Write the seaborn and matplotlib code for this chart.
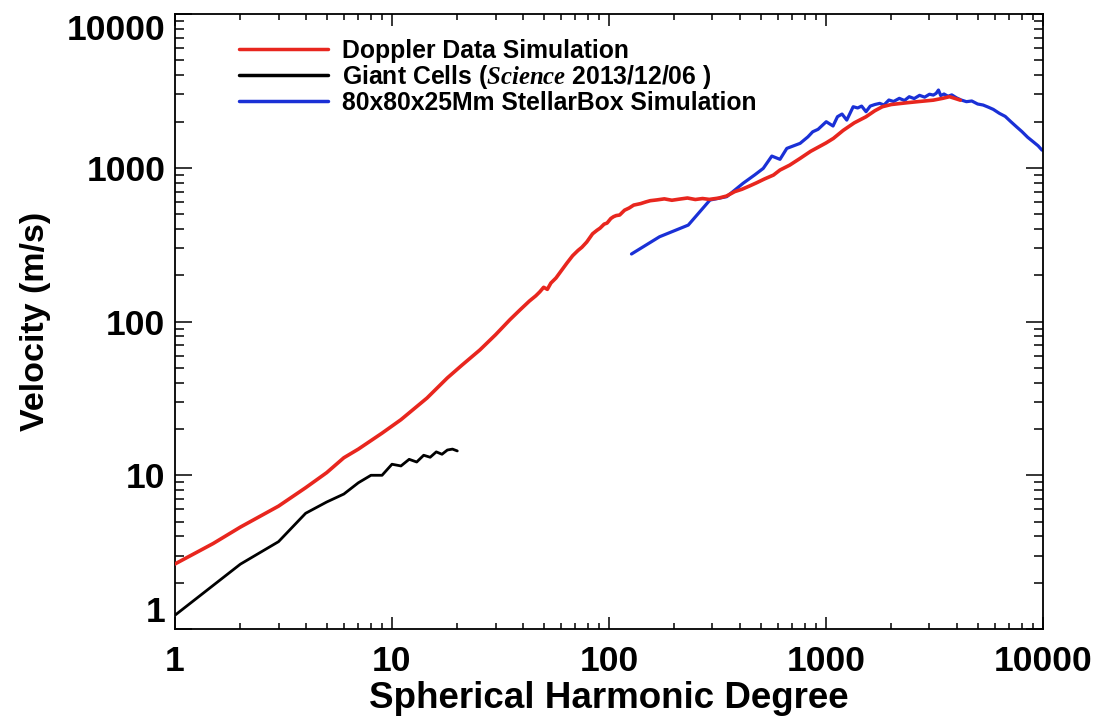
import matplotlib
matplotlib.use("Agg")
import matplotlib.pyplot as plt
import pandas as pd
import seaborn as sns

# Doppler data simulation: velocity spectrum vs spherical harmonic degree
doppler_degree = [1, 1.5, 2, 3, 4, 5, 6, 7, 9, 11, 14.5, 18, 21, 25.4, 30, 35, 38.9,
                  43, 46, 48, 50, 52, 54, 57, 60, 64, 68, 72, 75, 79, 84, 88, 91, 95,
                  98, 102, 105, 108, 112, 118, 124, 130, 140, 148, 155, 166, 180, 195,
                  212, 230, 250, 270, 290, 320, 348, 380, 410, 443, 480, 520, 573, 614,
                  680, 760, 850, 920, 1000, 1082, 1200, 1350, 1530, 1680, 1820, 2000,
                  2370, 2700, 3125, 3450, 3710, 3950, 4160]
doppler_velocity = [2.65, 3.6, 4.6, 6.3, 8.3, 10.4, 13.0, 14.8, 18.8, 23.0, 31.8, 43, 52,
                    65.3, 82, 103, 119, 136, 147, 156, 167, 162, 178, 192, 212, 240, 268,
                    290, 304, 329, 372, 392, 405, 430, 437, 468, 481, 489, 493, 530, 548,
                    572, 585, 600, 611, 618, 628, 615, 626, 636, 622, 631, 623, 635, 655,
                    700, 725, 760, 800, 845, 897, 967, 1040, 1151, 1280, 1360, 1450, 1553,
                    1750, 1960, 2148, 2350, 2496, 2580, 2650, 2700, 2754, 2830, 2900,
                    2820, 2754]

# Giant cells (Science 2013/12/06)
giant_degree = [1, 2, 3, 4, 5, 6, 7, 8, 9, 10, 11, 12, 13, 14, 15, 16, 17, 18, 19, 20]
giant_velocity = [1.23, 2.64, 3.70, 5.66, 6.70, 7.55, 8.94, 10.0, 10.0, 11.8, 11.5, 12.7,
                  12.2, 13.5, 13.1, 14.2, 13.7, 14.6, 14.8, 14.4]

# 80x80x25Mm StellarBox simulation
box_degree = [127, 171, 232, 292, 349, 415, 470, 514, 563, 614, 660, 760, 826, 869, 920,
              1003, 1078, 1130, 1186, 1247, 1335, 1400, 1460, 1530, 1600, 1680, 1770, 1850,
              1950, 2050, 2178, 2300, 2420, 2550, 2700, 2850, 3000, 3125, 3220, 3300, 3380,
              3500, 3650, 3800, 4000, 4200, 4440, 4700, 5000, 5300, 5600, 5900, 6300, 6700,
              7100, 7550, 8000, 8500, 9000, 9500, 9900]
box_velocity = [275, 356, 424, 617, 649, 793, 900, 991, 1192, 1135, 1337, 1442, 1590, 1715,
                1780, 1994, 1870, 2150, 2237, 2043, 2496, 2450, 2520, 2317, 2520, 2580, 2625,
                2560, 2760, 2700, 2830, 2740, 2900, 2820, 2960, 2880, 3010, 2972, 3050, 3206,
                2950, 3020, 2920, 2980, 2850, 2760, 2692, 2720, 2600, 2560, 2480, 2400, 2260,
                2160, 2000, 1849, 1720, 1580, 1480, 1390, 1303]

series_labels = ["Doppler Data Simulation",
                 r"Giant Cells ($\mathit{Science}$ 2013/12/06 )",
                 "80x80x25Mm StellarBox Simulation"]
series_colors = ["#e8261e", "#000000", "#1a30d6"]

tick_values = [1, 10, 100, 1000, 10000]
tick_labels = ["1", "10", "100", "1000", "10000"]

sns.set_theme(style="ticks")
plt.rcParams["font.family"] = ["Liberation Sans", "DejaVu Sans"]
plt.rcParams["font.weight"] = "bold"
plt.rcParams["text.color"] = "black"
plt.rcParams["axes.labelcolor"] = "black"
plt.rcParams["xtick.color"] = "black"
plt.rcParams["ytick.color"] = "black"
plt.rcParams["mathtext.fontset"] = "custom"
plt.rcParams["mathtext.it"] = "Liberation Serif:italic"
plt.rcParams["mathtext.rm"] = "Liberation Sans:bold"

doppler = pd.DataFrame({"degree": doppler_degree, "velocity": doppler_velocity})
giant = pd.DataFrame({"degree": giant_degree, "velocity": giant_velocity})
box = pd.DataFrame({"degree": box_degree, "velocity": box_velocity})

fig = plt.figure(figsize=(10.93, 7.17), dpi=100)
ax = fig.add_axes([0.1601, 0.1227, 0.7941, 0.8577])

sns.lineplot(data=box, x="degree", y="velocity", ax=ax, color=series_colors[2],
             lw=2.3, sort=False, estimator=None, label=series_labels[2], zorder=2)
sns.lineplot(data=giant, x="degree", y="velocity", ax=ax, color=series_colors[1],
             lw=2.0, sort=False, estimator=None, label=series_labels[1], zorder=3)
sns.lineplot(data=doppler, x="degree", y="velocity", ax=ax, color=series_colors[0],
             lw=2.6, sort=False, estimator=None, label=series_labels[0], zorder=4)

ax.set_xscale("log")
ax.set_yscale("log")
ax.set_xlim(1, 10000)
ax.set_ylim(1, 10000)
ax.set_xticks(tick_values)
ax.set_xticklabels(tick_labels)
ax.set_yticks(tick_values)
ax.set_yticklabels(tick_labels)

for side in ax.spines.values():
    side.set_linewidth(1.3)
    side.set_color("black")

ax.tick_params(which="both", direction="in", top=True, right=True, color="black",
               labelcolor="black", width=1.1)
ax.tick_params(axis="x", which="major", length=8.9, pad=11.5, labelsize=25.5)
ax.tick_params(axis="x", which="minor", length=4.4)
ax.tick_params(axis="y", which="major", length=12.5, pad=7, labelsize=25.5)
ax.tick_params(axis="y", which="minor", length=6.3)
for lab in ax.get_xticklabels() + ax.get_yticklabels():
    lab.set_fontweight("bold")
ylabs = ax.get_yticklabels()
ylabs[0].set_va("bottom")
ylabs[-1].set_va("top")

ax.set_xlabel("Spherical Harmonic Degree", fontsize=26.5, fontweight="bold", color="black")
ax.set_ylabel("Velocity (m/s)", fontsize=24.5, fontweight="bold", color="black")
ax.xaxis.set_label_coords(0.5, -0.085)
ax.yaxis.set_label_coords(-0.143, 0.5)

handles, labels = ax.get_legend_handles_labels()
order = [labels.index(s) for s in series_labels]
leg = ax.legend([handles[i] for i in order], [labels[i] for i in order],
                loc="upper left", bbox_to_anchor=(0.074, 0.960), frameon=False,
                prop={"family": "Liberation Sans", "weight": "bold", "size": 17.8},
                handlelength=3.6, handletextpad=0.55, labelspacing=0.0,
                borderaxespad=0, borderpad=0)
for line in leg.get_lines():
    line.set_linewidth(2.5)

fig.savefig("out.png", dpi=100)
